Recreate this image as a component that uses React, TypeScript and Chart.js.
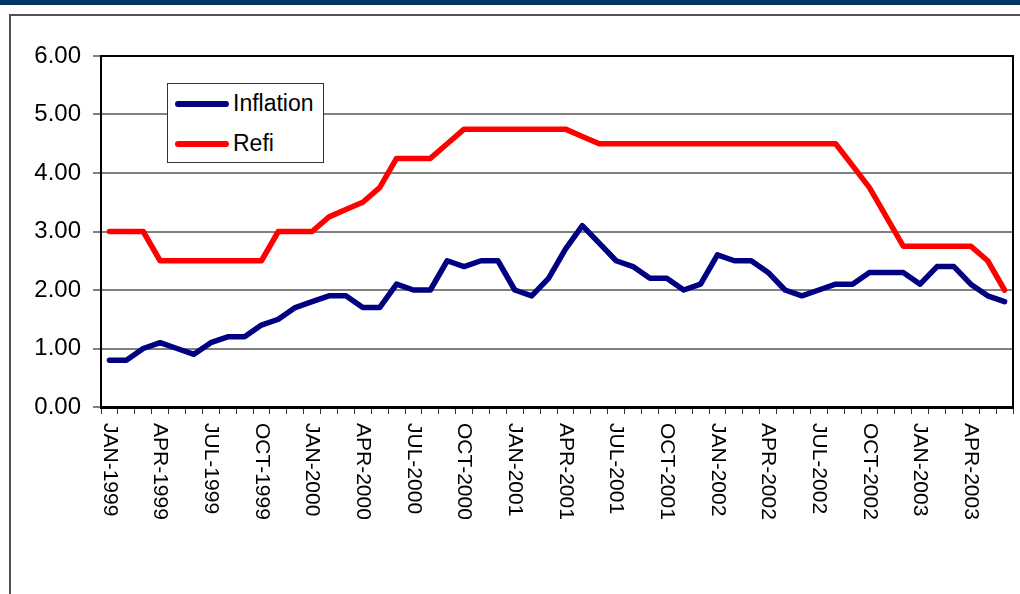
import React, { useEffect, useRef } from "react";
import { Chart, registerables } from "chart.js";

Chart.register(...registerables);

const categories: string[] = [
  "JAN-1999", "FEB-1999", "MAR-1999", "APR-1999", "MAY-1999", "JUN-1999",
  "JUL-1999", "AUG-1999", "SEP-1999", "OCT-1999", "NOV-1999", "DEC-1999",
  "JAN-2000", "FEB-2000", "MAR-2000", "APR-2000", "MAY-2000", "JUN-2000",
  "JUL-2000", "AUG-2000", "SEP-2000", "OCT-2000", "NOV-2000", "DEC-2000",
  "JAN-2001", "FEB-2001", "MAR-2001", "APR-2001", "MAY-2001", "JUN-2001",
  "JUL-2001", "AUG-2001", "SEP-2001", "OCT-2001", "NOV-2001", "DEC-2001",
  "JAN-2002", "FEB-2002", "MAR-2002", "APR-2002", "MAY-2002", "JUN-2002",
  "JUL-2002", "AUG-2002", "SEP-2002", "OCT-2002", "NOV-2002", "DEC-2002",
  "JAN-2003", "FEB-2003", "MAR-2003", "APR-2003", "MAY-2003", "JUN-2003",
];

const shownTickLabels: string[] = [
  "JAN-1999", "APR-1999", "JUL-1999", "OCT-1999",
  "JAN-2000", "APR-2000", "JUL-2000", "OCT-2000",
  "JAN-2001", "APR-2001", "JUL-2001", "OCT-2001",
  "JAN-2002", "APR-2002", "JUL-2002", "OCT-2002",
  "JAN-2003", "APR-2003",
];

const inflation: number[] = [
  0.8, 0.8, 1.0, 1.1, 1.0, 0.9, 1.1, 1.2, 1.2, 1.4,
  1.5, 1.7, 1.8, 1.9, 1.9, 1.7, 1.7, 2.1, 2.0, 2.0,
  2.5, 2.4, 2.5, 2.5, 2.0, 1.9, 2.2, 2.7, 3.1, 2.8,
  2.5, 2.4, 2.2, 2.2, 2.0, 2.1, 2.6, 2.5, 2.5, 2.3,
  2.0, 1.9, 2.0, 2.1, 2.1, 2.3, 2.3, 2.3, 2.1, 2.4,
  2.4, 2.1, 1.9, 1.8,
];

const refi: number[] = [
  3.0, 3.0, 3.0, 2.5, 2.5, 2.5, 2.5, 2.5, 2.5, 2.5,
  3.0, 3.0, 3.0, 3.25, 3.375, 3.5, 3.75, 4.25, 4.25, 4.25,
  4.5, 4.75, 4.75, 4.75, 4.75, 4.75, 4.75, 4.75, 4.625, 4.5,
  4.5, 4.5, 4.5, 4.5, 4.5, 4.5, 4.5, 4.5, 4.5, 4.5,
  4.5, 4.5, 4.5, 4.5, 4.125, 3.75, 3.25, 2.75, 2.75, 2.75,
  2.75, 2.75, 2.5, 2.0,
];

const FONT = "'Liberation Sans', Arial, sans-serif";

const overlayPlugin = {
  id: "overlayPlugin",
  afterDraw(chart: any) {
    const { ctx, chartArea } = chart;
    const xs = chart.scales.x;
    ctx.save();
    ctx.strokeStyle = "#000";
    ctx.lineWidth = 2;
    ctx.strokeRect(
      chartArea.left,
      chartArea.top,
      chartArea.right - chartArea.left,
      chartArea.bottom - chartArea.top
    );
    ctx.fillStyle = "#000";
    ctx.font = `21px ${FONT}`;
    ctx.textAlign = "left";
    ctx.textBaseline = "middle";
    categories.forEach((c, i) => {
      if (!shownTickLabels.includes(c)) return;
      const x = xs.getPixelForValue(i);
      ctx.save();
      ctx.translate(x, chartArea.bottom + 16);
      ctx.rotate(Math.PI / 2);
      ctx.fillText(c, 0, 0);
      ctx.restore();
    });
    ctx.restore();
  },
};

export default function App() {
  const canvasRef = useRef<HTMLCanvasElement | null>(null);

  useEffect(() => {
    if (!canvasRef.current) return;
    const chart = new Chart(canvasRef.current, {
      type: "line",
      data: {
        labels: categories,
        datasets: [
          {
            label: "Inflation",
            data: inflation,
            borderColor: "#000080",
            backgroundColor: "#000080",
            borderWidth: 5.5,
            pointRadius: 0,
            tension: 0,
            borderCapStyle: "round",
            borderJoinStyle: "round",
          },
          {
            label: "Refi",
            data: refi,
            borderColor: "#FF0000",
            backgroundColor: "#FF0000",
            borderWidth: 5.5,
            pointRadius: 0,
            tension: 0,
            borderCapStyle: "round",
            borderJoinStyle: "round",
          },
        ],
      },
      options: {
        responsive: false,
        animation: false,
        devicePixelRatio: 1,
        layout: { padding: { top: 56, right: 7, left: 0, bottom: 0 } },
        plugins: {
          legend: { display: false },
          tooltip: { enabled: false },
        },
        scales: {
          x: {
            type: "category",
            offset: true,
            grid: {
              display: true,
              drawOnChartArea: false,
              drawTicks: true,
              tickLength: 7,
              color: "#333",
              lineWidth: 1,
              offset: true,
            },
            border: { display: true, color: "#000", width: 3 },
            ticks: { display: false, autoSkip: false },
            afterFit: (scale: any) => {
              scale.height = 187;
            },
          },
          y: {
            min: 0,
            max: 6,
            ticks: {
              stepSize: 1,
              color: "#000",
              padding: 12,
              font: { family: FONT, size: 24 },
              callback: (v: any) => Number(v).toFixed(2),
            },
            grid: {
              color: "#808080",
              lineWidth: 2,
              tickLength: 8,
              tickColor: "#808080",
            },
            border: { display: true, color: "#000", width: 2 },
            afterFit: (scale: any) => {
              scale.width = 101;
            },
          },
        },
      },
      plugins: [overlayPlugin],
    });
    return () => chart.destroy();
  }, []);

  const legendText: React.CSSProperties = {
    position: "absolute",
    left: 65,
    fontFamily: FONT,
    fontSize: 23,
    color: "#000",
    lineHeight: "24px",
  };

  return (
    <div
      style={{
        position: "absolute",
        left: 0,
        top: 0,
        width: 1020,
        height: 594,
        overflow: "hidden",
        background: "#fff",
      }}
    >
      <div
        style={{
          position: "absolute",
          left: 0,
          top: 0,
          width: 1020,
          height: 5,
          background: "#003366",
        }}
      />
      <div
        style={{
          position: "absolute",
          left: 9,
          top: 14,
          width: 1100,
          height: 700,
          border: "2px solid #505050",
          boxSizing: "border-box",
        }}
      />
      <canvas
        ref={canvasRef}
        width={1020}
        height={594}
        style={{ position: "absolute", left: 0, top: 0, width: 1020, height: 594 }}
      />
      <div
        style={{
          position: "absolute",
          left: 167,
          top: 83,
          width: 157,
          height: 80,
          border: "1px solid #333",
          boxSizing: "border-box",
          background: "#fff",
        }}
      >
        <div
          style={{
            position: "absolute",
            left: 7,
            top: 17,
            width: 54,
            height: 6,
            borderRadius: 3,
            background: "#000080",
          }}
        />
        <div style={{ ...legendText, top: 7 }}>Inflation</div>
        <div
          style={{
            position: "absolute",
            left: 7,
            top: 57,
            width: 54,
            height: 6,
            borderRadius: 3,
            background: "#FF0000",
          }}
        />
        <div style={{ ...legendText, top: 47 }}>Refi</div>
      </div>
    </div>
  );
}
